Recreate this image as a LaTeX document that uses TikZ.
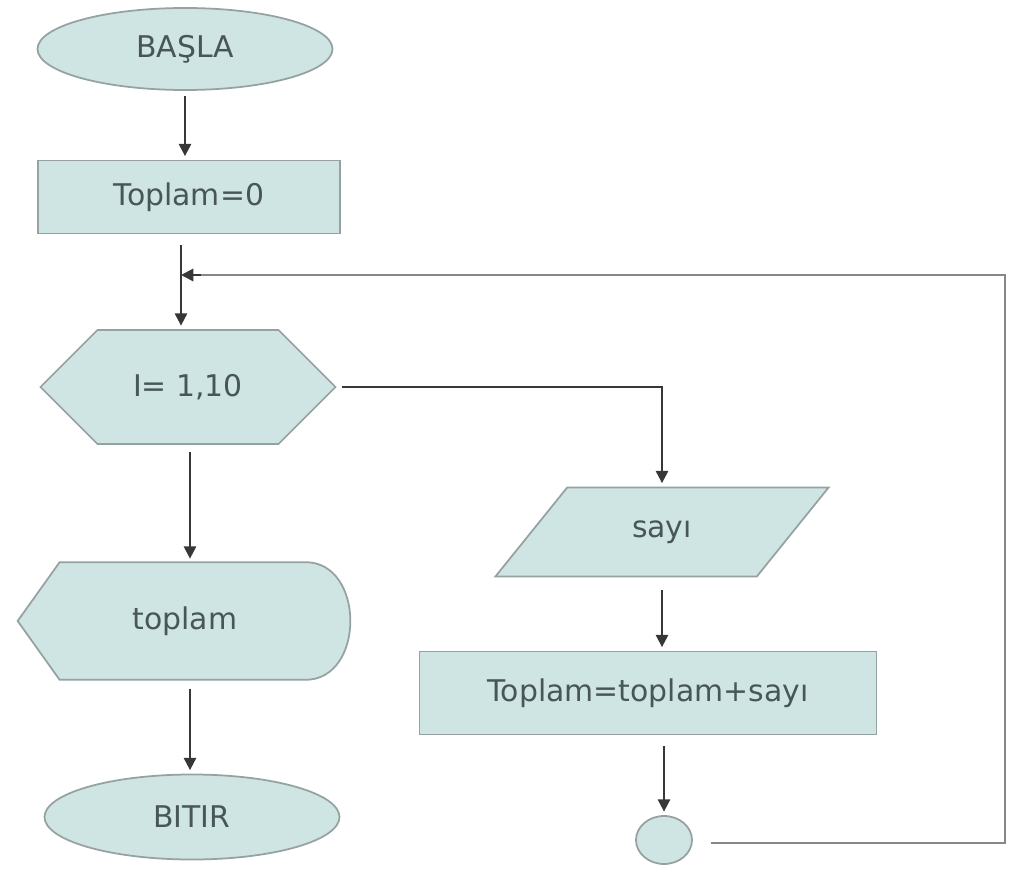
\documentclass[tikz,border=0pt]{standalone}
\usepackage{fontspec}
\setmainfont{DejaVu Sans}
\usepackage{tikz}
\usetikzlibrary{calc,arrows.meta,shapes.geometric,shapes.symbols,backgrounds}

\definecolor{kutu}{RGB}{207,229,227}
\definecolor{kenar}{RGB}{150,162,162}
\definecolor{yazi}{RGB}{72,86,86}
\definecolor{ok}{RGB}{55,55,55}
\definecolor{geri}{RGB}{135,135,135}

\tikzset{
    sekil/.style={draw=kenar, fill=kutu, line width=1pt, text=yazi, font=\fontsize{17}{20}\selectfont},
    okcizgi/.style={draw=ok, line width=1.2pt, -{Triangle[length=7pt,width=7pt]}, shorten >=2pt}
}

\begin{document}
\begin{tikzpicture}

    \useasboundingbox (0, 0) rectangle (20.4, -17.44);

    \node[sekil, ellipse, minimum width=5.9cm, minimum height=1.64cm] (basla) at (3.7, -0.98) {BAŞLA};

    \node[sekil, rectangle, minimum width=6.04cm, minimum height=1.46cm] (toplam0) at (3.78, -3.94) {Toplam=0};

    \node[sekil, signal, signal to=east and west, signal pointer angle=90, minimum width=5.9cm, minimum height=2.28cm] (dongu) at (3.76, -7.74) {I= 1,10};

    \node[text=yazi, font=\fontsize{17}{20}\selectfont, minimum width=6.68cm, minimum height=2.34cm] (yaz) at (3.7, -12.42) {toplam};

    \node[sekil, ellipse, minimum width=5.9cm, minimum height=1.7cm] (bitir) at (3.84, -16.34) {BITIR};

    \node[sekil, trapezium, trapezium left angle=52, trapezium right angle=128, trapezium stretches=true, minimum width=6.7cm, minimum height=1.78cm] (sayi) at (13.24, -10.64) {sayı};

    \node[sekil, rectangle, minimum width=9.14cm, minimum height=1.66cm] (ekle) at (12.96, -13.86) {Toplam=toplam+sayı};

    \node[sekil, ellipse, minimum width=1.12cm, minimum height=0.96cm] (birles) at (13.28, -16.8) {};

    \begin{scope}[on background layer]
        \draw[sekil] (yaz.west) -- ($(yaz.north west)+(0.84,0)$) -- ($(yaz.north east)+(-0.94,0)$) .. controls +(1.2,0) and +(1.2,0) .. ($(yaz.south east)+(-0.94,0)$) -- ($(yaz.south west)+(0.84,0)$) -- cycle;
    \end{scope}

    \coordinate (giris) at (3.62, -5.5);
    \coordinate (sagalt) at (20.1, -16.86);
    \coordinate (sagust) at (20.1, -5.5);
    \coordinate (solhat) at (3.8, 0);

    \draw[okcizgi, shorten <=3pt] (basla.south) -- (basla.south |- toplam0.north);

    \draw[okcizgi, shorten <=6pt] (toplam0.south -| giris) -- (dongu.north -| giris);

    \draw[okcizgi, shorten <=3pt] (dongu.east) -| (sayi.north);

    \draw[okcizgi, shorten <=4pt] (dongu.south -| solhat) -- (yaz.north -| solhat);

    \draw[okcizgi, shorten <=5pt] (yaz.south -| solhat) -- (bitir.north -| solhat);

    \draw[okcizgi, shorten <=7pt] (sayi.south) -- (ekle.north -| sayi.south);

    \draw[okcizgi, shorten <=6pt] (ekle.south -| birles) -- (birles.north);

    \draw[draw=geri, line width=1.4pt] (birles.east |- sagalt) ++(0.36,0) -- (sagalt) -- (sagust) -- ($(giris)+(0.3,0)$);

    \draw[okcizgi, shorten >=0pt] ($(giris)+(0.4,0)$) -- (giris);

\end{tikzpicture}
\end{document}
